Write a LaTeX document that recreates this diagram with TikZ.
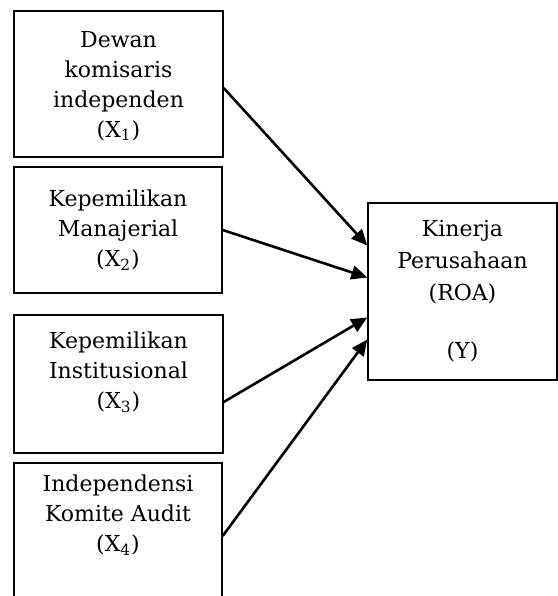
\documentclass[tikz,border=0pt]{standalone}
\usepackage{fontspec}
\setmainfont{DejaVu Serif}
\usetikzlibrary{arrows.meta}
\tikzset{
	varbox/.style = {draw, line width = 0.7pt, align = center, inner sep = 0pt, font = \fontsize{11}{15}\selectfont},
	effect/.style = {-{Triangle[length = 8pt, width = 7pt]}, line width = 1.3pt}
}
\begin{document}
\begin{tikzpicture}[x = 0.5pt, y = -0.5pt]
	\useasboundingbox (0, 0) rectangle (558, 596);
	\clip (0, 0) rectangle (558, 596);

	\node [varbox, minimum width = 104.5pt, minimum height = 73pt, text depth = 0pt] (x1) at (118.5, 84) {Dewan\\komisaris\\independen\\(X\textsubscript{1})};
	\node [varbox, minimum width = 104pt, minimum height = 63pt] (x2) at (118, 230) {Kepemilikan\\Manajerial\\(X\textsubscript{2})};
	\node [varbox, minimum width = 104.5pt, minimum height = 69pt, text depth = 14pt] (x3) at (118.5, 384) {Kepemilikan\\Institusional\\(X\textsubscript{3})};
	\node [varbox, minimum width = 104pt, minimum height = 77pt, text depth = 27pt] (x4) at (118, 540) {Independensi\\Komite Audit\\(X\textsubscript{4})};

	\node [varbox, minimum width = 94.5pt, minimum height = 88.5pt, font = \fontsize{11}{16}\selectfont] (y) at (462.5, 291.5) {Kinerja\\Perusahaan\\(ROA)\\[13pt](Y)};

	\draw [effect] ([yshift = -2pt] x1.east) -- ([yshift = 23pt] y.west);
	\draw [effect] (x2.east) -- ([yshift = 7pt] y.west);
	\draw [effect] ([yshift = -9pt] x3.east) -- ([yshift = -13pt] y.west);
	\draw [effect] ([yshift = 2pt] x4.east) -- ([yshift = -24pt] y.west);
\end{tikzpicture}
\end{document}
